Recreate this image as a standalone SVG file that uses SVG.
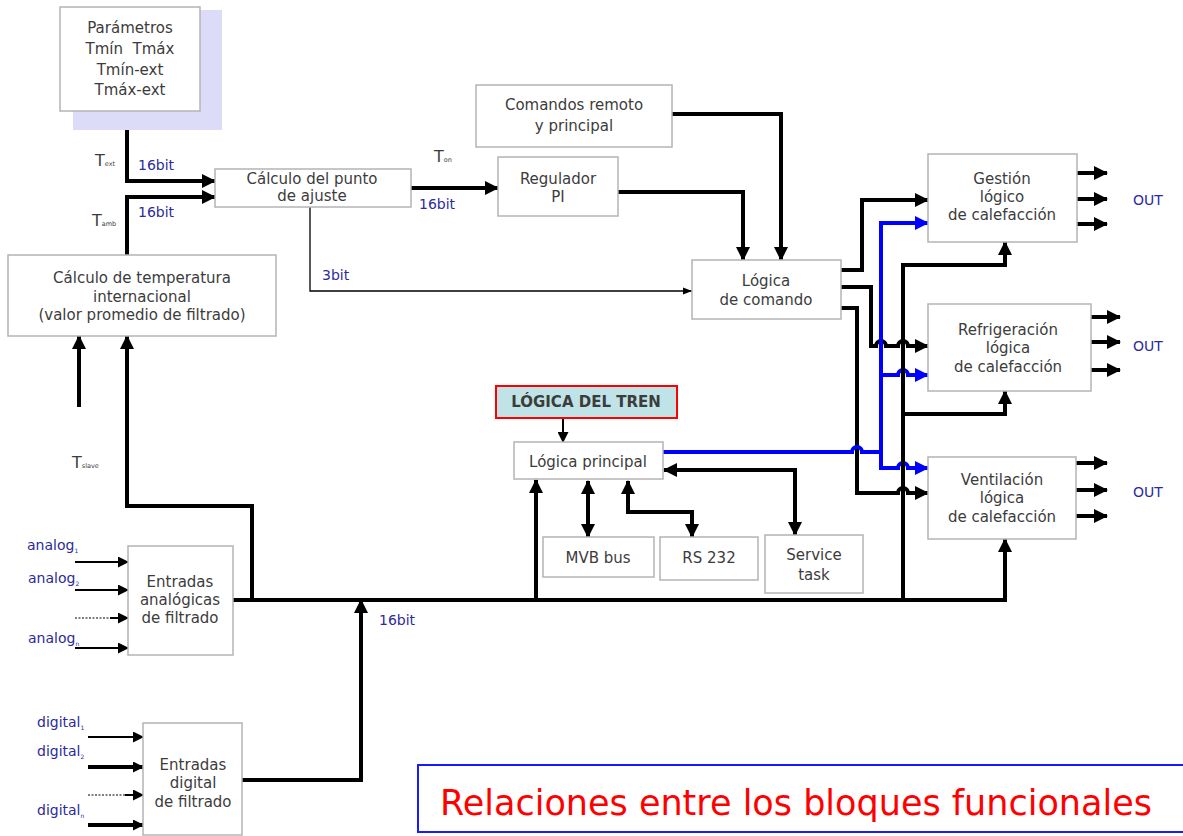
<svg xmlns="http://www.w3.org/2000/svg" width="1183" height="836" viewBox="0 0 1183 836">
<style>
.box{fill:#fff;stroke:#b4b4b4;stroke-width:1.5}
.tx{font-family:"DejaVu Sans","Liberation Sans",sans-serif;font-size:15px;fill:#3c3c3c;text-anchor:middle}
.lb{font-family:"DejaVu Sans","Liberation Sans",sans-serif;font-size:14px;fill:#2b2b9b}
.tl{font-family:"DejaVu Sans","Liberation Sans",sans-serif;font-size:16px;fill:#3c3c3c}
.k{fill:none;stroke:#000;stroke-width:4}
.b{fill:none;stroke:#0000ff;stroke-width:4}
.t{fill:none;stroke:#000;stroke-width:2}
.h{fill:none;stroke:#000;stroke-width:1.3}
.d{fill:none;stroke:#555;stroke-width:1.5;stroke-dasharray:2 1.5}
</style>
<defs>
<marker id="a" markerUnits="userSpaceOnUse" markerWidth="14" markerHeight="14" viewBox="0 0 14 14" refX="13" refY="7" orient="auto-start-reverse"><path d="M0,0 L14,7 L0,14 z" fill="#000"/></marker>
<marker id="ab" markerUnits="userSpaceOnUse" markerWidth="14" markerHeight="14" viewBox="0 0 14 14" refX="13" refY="7" orient="auto-start-reverse"><path d="M0,0 L14,7 L0,14 z" fill="#0000ff"/></marker>
<marker id="as" markerUnits="userSpaceOnUse" markerWidth="11" markerHeight="11" viewBox="0 0 11 11" refX="10" refY="5.5" orient="auto-start-reverse"><path d="M0,0 L11,5.5 L0,11 z" fill="#000"/></marker>
<marker id="at" markerUnits="userSpaceOnUse" markerWidth="9" markerHeight="9" viewBox="0 0 9 9" refX="9" refY="4.5" orient="auto-start-reverse"><path d="M0,1 L9,4.5 L0,8 z" fill="#000"/></marker>
</defs>

<g id="connectors">
<path class="k" d="M127,112 V181 H215" marker-end="url(#a)"/>
<path class="k" d="M127,255 V197 H215" marker-end="url(#a)"/>
<path class="k" d="M411,188 H498" marker-end="url(#a)"/>
<path class="h" d="M310,207 V291 H692" marker-end="url(#at)"/>
<path class="k" d="M618,192 H743 V260" marker-end="url(#a)"/>
<path class="k" d="M672,114 H781 V260" marker-end="url(#a)"/>
<path class="k" d="M841,270 H862 V200 H928" marker-end="url(#a)"/>
<path class="k" d="M841,287 H871 V346 H876 A5,5 0 0 1 886,346 H898 A5,5 0 0 1 908,346 H928" marker-end="url(#a)"/>
<path class="k" d="M841,308 H857 V493 H898 A5,5 0 0 1 908,493 H928" marker-end="url(#a)"/>
<path class="b" d="M663,452 H852 A5,5 0 0 1 862,452 H881"/>
<path class="b" d="M881,452 V223 H928" marker-end="url(#ab)"/>
<path class="b" d="M881,375 H898 A5,5 0 0 1 908,375 H928" marker-end="url(#ab)"/>
<path class="b" d="M881,450 V468 H898 A5,5 0 0 1 908,468 H928" marker-end="url(#ab)"/>
<path class="k" d="M903,600 V265 H1005 V242" marker-end="url(#a)"/>
<path class="k" d="M903,414 H1005 V391" marker-end="url(#a)"/>
<path class="k" d="M233,600 H1005 V539" marker-end="url(#a)"/>
<path class="k" d="M252,600 V506 H127 V336" marker-end="url(#a)"/>
<path class="k" d="M79,407 V336" marker-end="url(#a)"/>
<path class="k" d="M242,780 H361 V600" marker-end="url(#a)"/>
<path class="k" d="M536,600 V480" marker-end="url(#a)"/>
<path class="t" d="M563,418 V442" marker-end="url(#as)"/>
<path class="t" d="M563,467 V479" marker-start="url(#at)" marker-end="url(#at)"/>
<path class="k" d="M588,481 V537" marker-start="url(#a)" marker-end="url(#a)"/>
<path class="k" d="M628,481 V512 H692 V537" marker-start="url(#a)" marker-end="url(#a)"/>
<path class="k" d="M664,470 H795 V535" marker-start="url(#a)" marker-end="url(#a)"/>
<path class="k" d="M1077,173 H1107" marker-end="url(#a)"/>
<path class="k" d="M1077,199 H1107" marker-end="url(#a)"/>
<path class="k" d="M1077,224 H1107" marker-end="url(#a)"/>
<path class="k" d="M1091,317 H1120" marker-end="url(#a)"/>
<path class="k" d="M1091,342 H1120" marker-end="url(#a)"/>
<path class="k" d="M1091,370 H1120" marker-end="url(#a)"/>
<path class="k" d="M1076,463 H1107" marker-end="url(#a)"/>
<path class="k" d="M1076,490 H1107" marker-end="url(#a)"/>
<path class="k" d="M1076,516 H1107" marker-end="url(#a)"/>
<path class="t" d="M75,562 H128" marker-end="url(#as)"/>
<path class="t" d="M75,590 H128" marker-end="url(#as)"/>
<path class="d" d="M75,618 H117"/>
<path class="t" d="M110,618 H128" marker-end="url(#as)"/>
<path class="t" d="M75,648 H128" marker-end="url(#as)"/>
<path class="t" d="M88,737 H143" marker-end="url(#as)"/>
<path class="k" d="M88,767 H143" stroke-width="3" marker-end="url(#as)"/>
<path class="d" d="M88,795 H132"/>
<path class="t" d="M125,795 H143" marker-end="url(#as)"/>
<path class="k" d="M88,825 H143" stroke-width="3" marker-end="url(#as)"/>
</g>

<g id="labels">
<text class="tl" x="95" y="166">T<tspan font-size="6.5">ext</tspan></text>
<text class="tl" x="92" y="226" fill="#666">T<tspan font-size="6.5">amb</tspan></text>
<text class="tl" x="434" y="162">T<tspan font-size="6.5">on</tspan></text>
<text class="tl" x="72" y="468">T<tspan font-size="6.5">slave</tspan></text>
<text class="lb" x="138" y="170">16bit</text>
<text class="lb" x="138" y="217">16bit</text>
<text class="lb" x="419" y="209">16bit</text>
<text class="lb" x="322" y="280">3bit</text>
<text class="lb" x="379" y="625">16bit</text>
<text class="lb" x="1133" y="205" font-size="15">OUT</text>
<text class="lb" x="1133" y="351" font-size="15">OUT</text>
<text class="lb" x="1133" y="497" font-size="15">OUT</text>
<text class="lb" x="27" y="550">analog<tspan font-size="6" dy="3">1</tspan></text>
<text class="lb" x="28" y="583">analog<tspan font-size="6" dy="3">2</tspan></text>
<text class="lb" x="28" y="643">analog<tspan font-size="6" dy="3">n</tspan></text>
<text class="lb" x="37" y="727">digital<tspan font-size="6" dy="3">1</tspan></text>
<text class="lb" x="37" y="756">digital<tspan font-size="6" dy="3">2</tspan></text>
<text class="lb" x="37" y="815">digital<tspan font-size="6" dy="3">n</tspan></text>
</g>

<g id="parametros">
<rect x="73" y="10" width="149" height="120" fill="#dcdcf8"/>
<rect class="box" x="60" y="7" width="140" height="104"/>
<text class="tx" x="130" y="33">Parámetros</text>
<text class="tx" x="130" y="54" xml:space="preserve">Tmín  Tmáx</text>
<text class="tx" x="130" y="75">Tmín-ext</text>
<text class="tx" x="130" y="95">Tmáx-ext</text>
</g>

<g id="calculo-punto">
<rect class="box" x="215" y="169" width="196" height="38"/>
<text class="tx" x="312" y="184" font-size="14">Cálculo del punto</text>
<text class="tx" x="312" y="201" font-size="14">de ajuste</text>
</g>

<g id="calculo-temp">
<rect class="box" x="8" y="255" width="268" height="81"/>
<text class="tx" x="142" y="283">Cálculo de temperatura</text>
<text class="tx" x="142" y="302">internacional</text>
<text class="tx" x="142" y="320">(valor promedio de filtrado)</text>
</g>

<g id="comandos">
<rect class="box" x="476" y="85" width="196" height="62"/>
<text class="tx" x="574" y="110">Comandos remoto</text>
<text class="tx" x="574" y="131">y principal</text>
</g>

<g id="regulador">
<rect class="box" x="498" y="157" width="120" height="59"/>
<text class="tx" x="558" y="184">Regulador</text>
<text class="tx" x="558" y="202">PI</text>
</g>

<g id="logica-comando">
<rect class="box" x="692" y="260" width="149" height="59"/>
<text class="tx" x="766" y="286">Lógica</text>
<text class="tx" x="766" y="305">de comando</text>
</g>

<g id="gestion">
<rect class="box" x="928" y="154" width="149" height="88"/>
<text class="tx" x="1002" y="184">Gestión</text>
<text class="tx" x="1002" y="202">lógico</text>
<text class="tx" x="1002" y="220">de calefacción</text>
</g>

<g id="refrigeracion">
<rect class="box" x="928" y="304" width="163" height="87"/>
<text class="tx" x="1008" y="335">Refrigeración</text>
<text class="tx" x="1008" y="353">lógica</text>
<text class="tx" x="1008" y="372">de calefacción</text>
</g>

<g id="ventilacion">
<rect class="box" x="928" y="457" width="148" height="82"/>
<text class="tx" x="1002" y="485">Ventilación</text>
<text class="tx" x="1002" y="503">lógica</text>
<text class="tx" x="1002" y="522">de calefacción</text>
</g>

<g id="logica-tren">
<rect x="496" y="386" width="181" height="32" fill="#bfe3e6" stroke="#ff0000" stroke-width="2"/>
<text class="tx" x="586" y="407" font-weight="bold" font-size="15" fill="#1e1e55">LÓGICA DEL TREN</text>
</g>

<g id="logica-principal">
<rect class="box" x="514" y="442" width="149" height="37"/>
<text class="tx" x="588" y="467" font-size="15.5">Lógica principal</text>
</g>

<g id="mvb">
<rect class="box" x="543" y="537" width="111" height="40"/>
<text class="tx" x="598" y="563">MVB bus</text>
</g>

<g id="rs232">
<rect class="box" x="660" y="537" width="98" height="43"/>
<text class="tx" x="709" y="563">RS 232</text>
</g>

<g id="service">
<rect class="box" x="765" y="535" width="98" height="58"/>
<text class="tx" x="814" y="560">Service</text>
<text class="tx" x="814" y="580">task</text>
</g>

<g id="entradas-analogicas">
<rect class="box" x="128" y="546" width="105" height="109"/>
<text class="tx" x="180" y="587" font-size="16">Entradas</text>
<text class="tx" x="180" y="605" font-size="16">analógicas</text>
<text class="tx" x="180" y="623" font-size="16">de filtrado</text>
</g>

<g id="entradas-digital">
<rect class="box" x="143" y="723" width="99" height="112"/>
<text class="tx" x="193" y="770" font-size="16">Entradas</text>
<text class="tx" x="193" y="788" font-size="16">digital</text>
<text class="tx" x="193" y="807" font-size="16">de filtrado</text>
</g>

<g id="titulo">
<rect x="418" y="765" width="770" height="67" fill="#fff" stroke="#1a1aff" stroke-width="2"/>
<text x="440" y="815" font-family="DejaVu Sans, Liberation Sans, sans-serif" font-size="35" fill="#ff0000">Relaciones entre los bloques funcionales</text>
</g>
</svg>
